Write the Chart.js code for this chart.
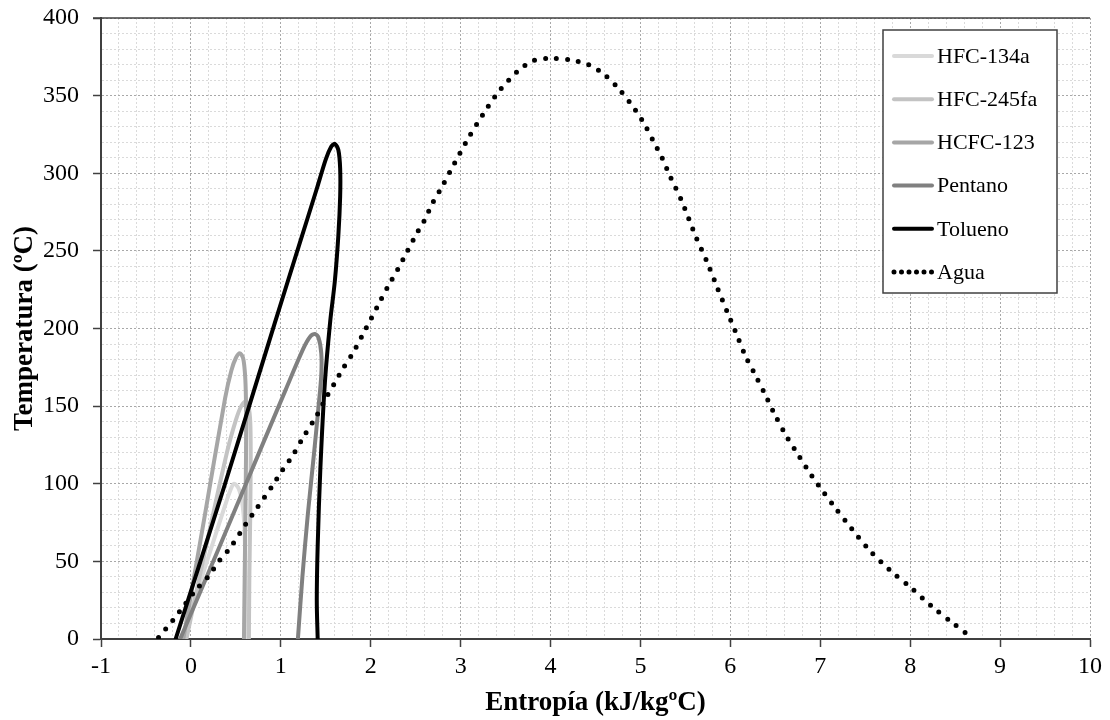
<!DOCTYPE html>
<html>
<head>
<meta charset="utf-8">
<script src="https://cdn.jsdelivr.net/npm/chart.js@4/dist/chart.umd.min.js"></script>
<style>
  html, body { margin: 0; padding: 0; background: #ffffff; }
  #wrap { width: 1110px; height: 720px; position: relative; }
</style>
</head>
<body>
<div id="wrap"><canvas id="c"></canvas></div>
<script>
// ---- Data (entropy s in kJ/kgºC, temperature T in ºC) ----
const seriesNames = ['HFC-134a', 'HFC-245fa', 'HCFC-123', 'Pentano', 'Tolueno', 'Agua'];

const r134aS = [-0.10, 0.15, 0.38, 0.44, 0.48, 0.53, 0.57, 0.595, 0.605, 0.61];
const r134aT = [0, 45, 86, 96, 100, 97, 88, 72, 45, 0];

const r245faS = [-0.05, 0.17, 0.40, 0.50, 0.56, 0.61, 0.64, 0.66, 0.665, 0.66, 0.65, 0.645];
const r245faT = [0, 60, 120, 141, 150, 153, 150, 140, 120, 80, 40, 0];

const r123S = [-0.085, 0.15, 0.38, 0.45, 0.50, 0.545, 0.58, 0.60, 0.61, 0.615, 0.61, 0.60, 0.59];
const r123T = [0, 78, 155, 173, 181, 184, 181, 172, 160, 140, 100, 50, 0];

const pentS = [-0.12, 0.30, 0.70, 1.05, 1.25, 1.33, 1.38, 1.42, 1.45, 1.45, 1.42, 1.37, 1.30, 1.24, 1.19];
const pentT = [0, 57, 112, 160, 187, 195, 196.5, 194, 184, 170, 150, 120, 80, 40, 0];

const tolS = [-0.17, 0.38, 0.93, 1.20, 1.40, 1.50, 1.56, 1.60, 1.64, 1.66, 1.66, 1.64, 1.60, 1.55, 1.49, 1.44, 1.41, 1.40, 1.41];
const tolT = [0, 100, 203, 253, 290, 309, 317, 319, 315, 303, 285, 260, 230, 205, 165, 110, 60, 25, 0];

const aguaS = [-0.36, -0.20, -0.07, 0.06, 0.19, 0.31, 0.44, 0.61, 0.73, 0.91, 1.02, 1.13, 1.24, 1.40, 1.50, 1.60,
  1.70, 1.81, 1.91, 2.01, 2.10, 2.20, 2.30, 2.40, 2.50, 2.60, 2.69, 2.79, 2.89, 3.08, 3.25, 3.43, 3.64,
  3.81, 4.01, 4.22, 4.42, 4.59, 4.75, 4.94, 5.05, 5.15, 5.24, 5.33, 5.46, 5.61, 5.74, 5.85, 5.97, 6.05,
  6.17, 6.26, 6.40, 6.49, 6.64, 6.74, 6.86, 6.98, 7.16, 7.35, 7.55, 7.78, 8.01, 8.24, 8.48, 8.68];
const aguaT = [1, 12, 22, 32, 40, 50, 59, 74, 84, 99, 109, 118, 129, 144, 155, 165,
  175, 185, 196, 207, 217, 228, 238, 249, 260, 270, 281, 291, 302, 322, 338, 353, 366,
  372.5, 374, 373, 370, 364, 355, 341, 331, 320, 310, 298, 282, 260, 243, 227, 210, 199,
  182, 172, 156, 145, 129, 120, 109, 99, 85, 71, 57, 44, 33, 21, 10, 1];

const xTickLabels = ['-1', '0', '1', '2', '3', '4', '5', '6', '7', '8', '9', '10'];
const yTickLabels = ['0', '50', '100', '150', '200', '250', '300', '350', '400'];

// ---- helpers ----
function pts(xs, ys) { return xs.map((x, i) => ({ x: x, y: ys[i] })); }
function isMajor(v, step) { const q = v / step; return Math.abs(q - Math.round(q)) < 1e-6; }

const styles = [
  { color: '#d9d9d9', width: 4, dash: [] },
  { color: '#c3c3c3', width: 4, dash: [] },
  { color: '#a6a6a6', width: 4, dash: [] },
  { color: '#808080', width: 4, dash: [] },
  { color: '#000000', width: 4, dash: [] },
  { color: '#000000', width: 5, dash: [0, 11] }
];
const sets = [pts(r134aS, r134aT), pts(r245faS, r245faT), pts(r123S, r123T), pts(pentS, pentT), pts(tolS, tolT), pts(aguaS, aguaT)];
const orders = [5, 4, 3, 2, 1, 0];

const datasets = seriesNames.map((name, i) => ({
  label: name,
  data: sets[i],
  showLine: true,
  borderColor: styles[i].color,
  backgroundColor: styles[i].color,
  borderWidth: styles[i].width,
  borderDash: styles[i].dash,
  borderCapStyle: 'round',
  borderJoinStyle: 'round',
  pointRadius: 0,
  pointHoverRadius: 0,
  tension: 0.3,
  fill: false,
  order: orders[i]
}));

const serif = "'Liberation Serif', 'Times New Roman', 'DejaVu Serif', serif";

const frameTop = {
  id: 'frameTop',
  afterDatasetsDraw(chart) {
    const ctx = chart.ctx, ca = chart.chartArea;
    ctx.save();
    ctx.strokeStyle = '#404040';
    ctx.lineWidth = 1.5;
    ctx.beginPath();
    ctx.moveTo(ca.left - 8, ca.top);
    ctx.lineTo(ca.right, ca.top);
    ctx.stroke();
    ctx.restore();
  }
};

const boxLegend = {
  id: 'boxLegend',
  afterDraw(chart) {
    const ctx = chart.ctx;
    const ca = chart.chartArea;
    const bx = ca.right - 207, by = ca.top + 12, bw = 174, bh = 263;
    ctx.save();
    ctx.fillStyle = '#ffffff';
    ctx.fillRect(bx, by, bw, bh);
    ctx.strokeStyle = '#404040';
    ctx.lineWidth = 1.5;
    ctx.strokeRect(bx, by, bw, bh);
    chart.data.datasets.forEach((ds, i) => {
      const y = by + 26 + i * 43.2;
      ctx.beginPath();
      ctx.strokeStyle = ds.borderColor;
      ctx.lineWidth = ds.borderWidth;
      ctx.lineCap = 'round';
      ctx.setLineDash(ds.borderDash.length ? [0, 7.5] : []);
      ctx.moveTo(bx + 11, y);
      ctx.lineTo(bx + 49, y);
      ctx.stroke();
      ctx.setLineDash([]);
      ctx.fillStyle = '#000000';
      ctx.font = '22px ' + serif;
      ctx.textBaseline = 'middle';
      ctx.textAlign = 'left';
      ctx.fillText(ds.label, bx + 54, y + 1);
    });
    ctx.restore();
  }
};

new Chart(document.getElementById('c'), {
  type: 'scatter',
  data: { datasets: datasets },
  plugins: [frameTop, boxLegend],
  options: {
    responsive: true,
    maintainAspectRatio: false,
    animation: false,
    events: [],
    layout: { padding: { left: 0, top: 18, right: 20, bottom: 0 } },
    plugins: { legend: { display: false }, tooltip: { enabled: false } },
    scales: {
      x: {
        type: 'linear',
        min: -1, max: 10,
        afterFit(s) { s.height = 81; s.paddingLeft = 0; s.paddingRight = 0; },
        ticks: {
          stepSize: 0.2,
          autoSkip: false,
          maxRotation: 0,
          padding: 5,
          color: '#000000',
          font: { family: serif, size: 24 },
          callback(v) { return isMajor(v, 1) ? xTickLabels[Math.round(v) + 1] : ''; }
        },
        grid: {
          color(ctx) { return isMajor(ctx.tick.value, 1) ? '#a8a8a8' : '#dadada'; },
          lineWidth: 1,
          tickLength: 8,
          tickWidth: 1.5,
          tickColor(ctx) { return ctx.tick && isMajor(ctx.tick.value, 1) ? '#404040' : 'rgba(0,0,0,0)'; }
        },
        border: { display: true, color: '#404040', width: 2, dash: [2, 2] },
        title: {
          display: true,
          text: 'Entropía (kJ/kgºC)',
          color: '#000000',
          font: { family: serif, size: 27, weight: 'bold' },
          padding: { top: 0, bottom: 1 }
        }
      },
      y: {
        type: 'linear',
        min: 0, max: 400,
        afterFit(s) { s.width = 101; s.paddingTop = 0; s.paddingBottom = 0; },
        ticks: {
          stepSize: 10,
          autoSkip: false,
          padding: 14,
          color: '#000000',
          font: { family: serif, size: 24 },
          callback(v) { return isMajor(v, 50) ? yTickLabels[Math.round(v / 50)] : ''; }
        },
        grid: {
          color(ctx) { return isMajor(ctx.tick.value, 50) ? '#a8a8a8' : '#dadada'; },
          lineWidth: 1,
          tickLength: 8,
          tickWidth: 1.5,
          tickColor(ctx) { return ctx.tick && isMajor(ctx.tick.value, 50) ? '#404040' : 'rgba(0,0,0,0)'; }
        },
        border: { display: true, color: '#404040', width: 2, dash: [2, 2] },
        title: {
          display: true,
          text: 'Temperatura (ºC)',
          color: '#000000',
          font: { family: serif, size: 27, weight: 'bold' },
          padding: { top: 9, bottom: 0 }
        }
      }
    }
  }
});
</script>
</body>
</html>
